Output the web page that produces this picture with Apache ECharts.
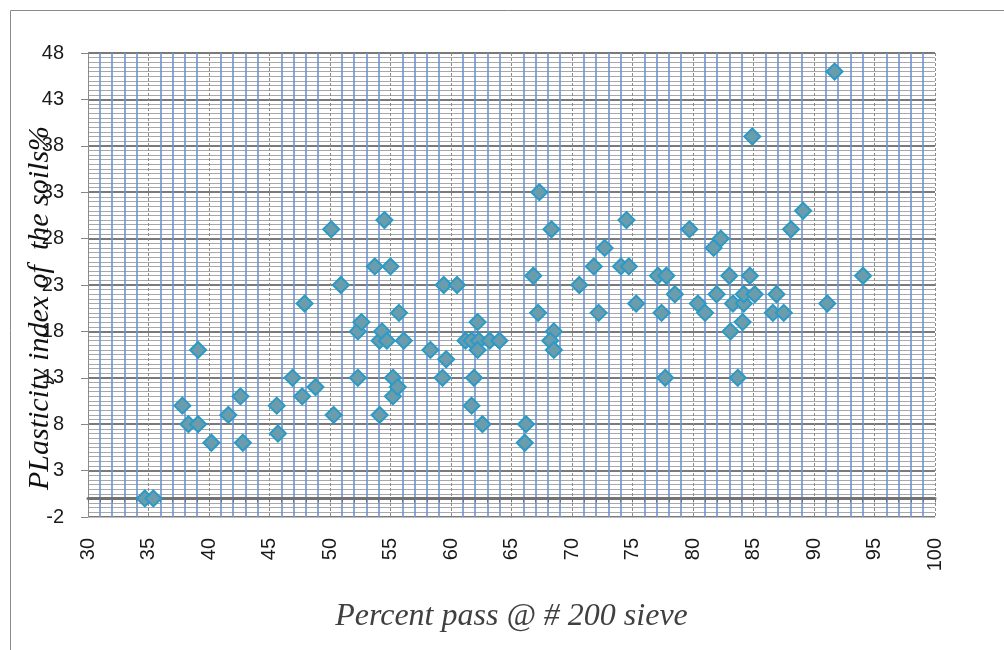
<!DOCTYPE html>
<html>
<head>
<meta charset="utf-8">
<script src="https://cdn.jsdelivr.net/npm/echarts@6/dist/echarts.min.js"></script>
<style>
html,body{margin:0;padding:0;background:#fff;}
#chart{width:1004px;height:650px;}
</style>
</head>
<body>
<div id="chart"></div>
<script>
// Percent passing #200 sieve
var passPercent = [34.7,35.4,37.8,38.3,39.1,39.1,40.2,41.6,42.6,42.8,45.6,45.7,46.9,47.7,47.9,48.8,50.1,50.3,50.9,52.3,52.6,52.3,53.7,54.1,54.1,54.3,54.5,54.7,55.0,55.2,55.2,55.6,55.7,56.1,58.3,59.4,59.3,59.6,60.5,61.2,61.7,62.3,63.2,64.0,62.2,62.2,61.9,61.7,62.6,66.2,66.1,66.8,67.3,67.2,68.3,68.5,68.2,68.5,70.6,71.8,72.7,72.2,74.5,74.05,74.7,75.3,77.1,77.8,77.4,77.7,78.5,79.7,80.4,81.0,81.7,82.3,81.95,83.0,84.7,83.3,84.2,84.2,85.1,84.1,83.1,83.7,84.9,86.6,86.9,87.5,88.1,89.1,91.1,91.7,94.05];
// Plasticity index %
var plasticityIndex = [0,0,10,8,8,16,6,9,11,6,10,7,13,11,21,12,29,9,23,18,19,13,25,9,17,18,30,17,25,13,11,12,20,17,16,23,13,15,23,17,17,17,17,17,19,16,13,10,8,8,6,24,33,20,29,18,17,16,23,25,27,20,30,25,25,21,24,24,20,13,22,29,21,20,27,28,22,24,24,21,21,22,22,19,18,13,39,20,22,20,29,31,21,46,24];
var xTickMin = 30, xTickMax = 100, xTickStep = 5;
var yTickMin = -2, yTickMax = 48, yTickStep = 5;
var xTitle = 'Percent pass @ # 200 sieve';
var yTitle = 'PLasticity index of  the soils%';

var points = passPercent.map(function(v,i){ return [v, plasticityIndex[i]]; });

var chart = echarts.init(document.getElementById('chart'), null, {renderer:'canvas'});
chart.setOption({
  animation:false,
  grid:{left:88, right:69, top:53, bottom:133, containLabel:false},
  xAxis:[{
    type:'value', min:xTickMin, max:xTickMax, interval:xTickStep,
    axisLine:{show:true, onZero:true, lineStyle:{color:'#737373', width:3}},
    axisTick:{show:true, length:4, inside:false, lineStyle:{color:'#737373', width:1}},
    minorTick:{show:true, splitNumber:5, length:4, lineStyle:{color:'#737373', width:1}},
    axisLabel:{show:false},
    splitLine:{show:true, lineStyle:{color:'#8c8c8c', width:1, type:[3,2]}},
    minorSplitLine:{show:true, lineStyle:{color:'#6d94d0', width:1.6}},
    z:3
  },{
    type:'value', min:xTickMin, max:xTickMax, interval:xTickStep, position:'bottom',
    axisLine:{show:true, onZero:false, lineStyle:{color:'#bfbfbf', width:1}},
    axisTick:{show:false},
    splitLine:{show:false},
    axisLabel:{show:true, rotate:90, margin:21, fontFamily:'Liberation Sans', fontSize:20, color:'#1a1a1a'},
    name:xTitle, nameLocation:'middle', nameGap:84,
    nameTextStyle:{fontFamily:'Liberation Serif', fontStyle:'italic', fontSize:32, color:'#404040'}
  }],
  yAxis:{
    type:'value', min:yTickMin, max:yTickMax, interval:yTickStep,
    axisLine:{show:true, onZero:false, lineStyle:{color:'#868686', width:1}},
    axisTick:{show:true, length:7, lineStyle:{color:'#868686'}},
    axisLabel:{fontFamily:'Liberation Sans', fontSize:20, color:'#1a1a1a', margin:24},
    splitLine:{show:true, lineStyle:{color:'#7a7a7a', width:2}},
    minorTick:{show:false, splitNumber:10},
    minorSplitLine:{show:true, lineStyle:{color:'#a8a8a8', width:1}}
  },
  graphic:[
    {type:'rect', shape:{x:10.5, y:10.5, width:1010, height:660}, style:{fill:'none', stroke:'#8a8a8a', lineWidth:1}, z:100},
    {type:'text', x:40, y:308, rotation:Math.PI/2, style:{text:yTitle, font:'italic 30px "Liberation Serif"', fill:'#111', align:'center', verticalAlign:'middle'}, z:100}
  ],
  series:[{
    type:'scatter', xAxisIndex:0, data:points,
    symbol:'diamond', symbolSize:16,
    itemStyle:{color:'#6b9cab', borderColor:'#2c9ac7', borderWidth:2, opacity:1},
    z:5
  }]
});
</script>
</body>
</html>
